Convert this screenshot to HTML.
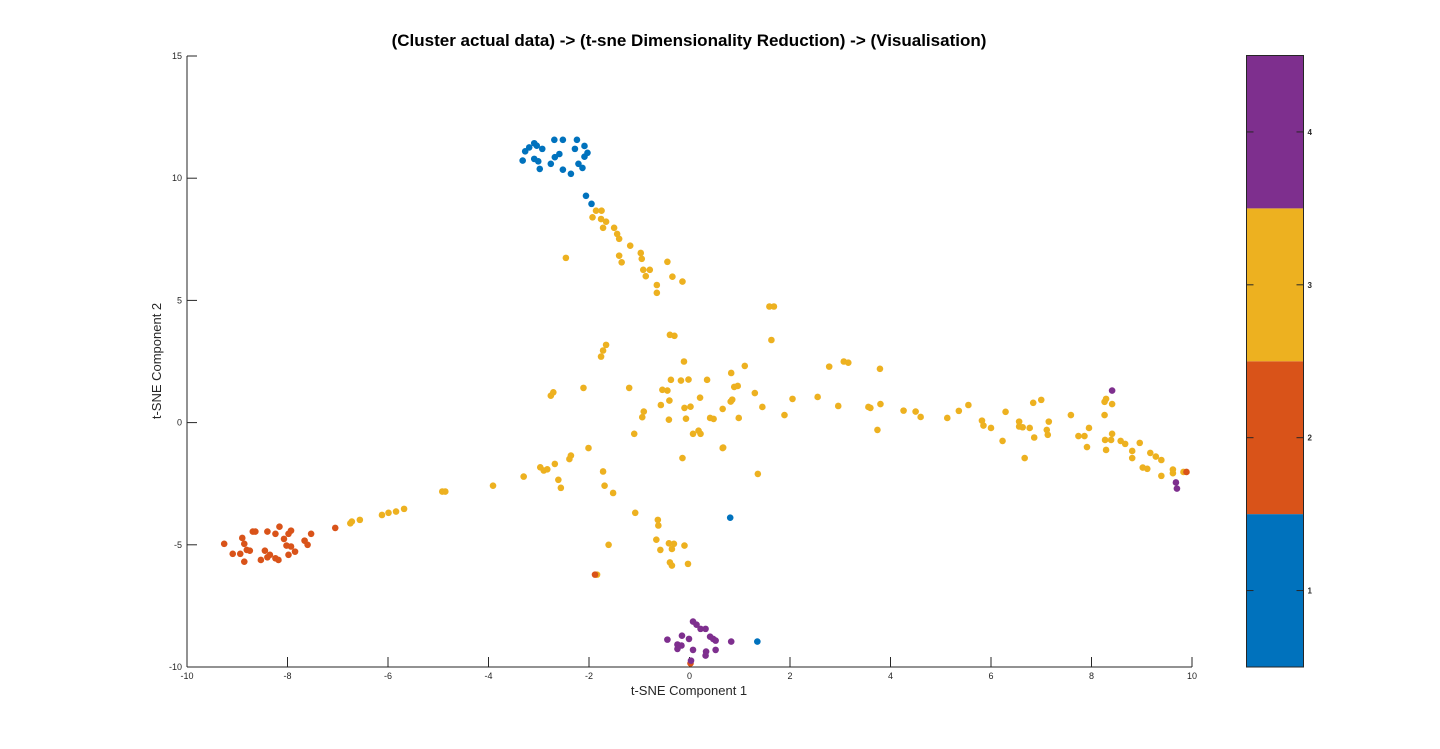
<!DOCTYPE html>
<html><head><meta charset="utf-8"><style>
html,body{margin:0;padding:0;background:#fff;}
svg{display:block;font-family:"Liberation Sans",sans-serif;}
</style></head><body>
<svg id="chart" width="1440" height="749" viewBox="0 0 1440 749" xmlns="http://www.w3.org/2000/svg">
<rect width="1440" height="749" fill="#fff"/>
<text x="689" y="46" text-anchor="middle" font-size="17" font-weight="bold" fill="#000">(Cluster actual data) -&gt; (t-sne Dimensionality Reduction) -&gt; (Visualisation)</text>
<g id="axes"></g>
<g id="points"></g>
<g id="cbar"></g>
<text x="689" y="695" text-anchor="middle" font-size="13" fill="#262626">t-SNE Component 1</text>
<text transform="translate(161,361) rotate(-90)" text-anchor="middle" font-size="13" fill="#262626">t-SNE Component 2</text>
</svg>
<script>
const xTicks=[-10,-8,-6,-4,-2,0,2,4,6,8,10];
const yTicks=[-10,-5,0,5,10,15];
const cbarTicks=[1,2,3,4];
const clusterColors=["#0072BD","#D95319","#EDB120","#7E2F8E"];
const blueX=[-3.32,-3.27,-3.19,-3.09,-3.04,-2.93,-3.09,-3.01,-2.98,-2.76,-2.68,-2.59,-2.69,-2.52,-2.52,-2.36,-2.24,-2.28,-2.09,-2.03,-2.09,-2.21,-2.13,-2.06,-1.95,0.81,1.35];
const blueY=[10.72,11.10,11.26,11.43,11.33,11.20,10.79,10.69,10.38,10.59,10.86,10.99,11.57,11.57,10.35,10.18,11.57,11.20,11.32,11.04,10.88,10.59,10.42,9.28,8.95,-3.89,-8.96];
const orangeX=[-9.26,-9.09,-8.94,-8.86,-8.90,-8.86,-8.81,-8.75,-8.69,-8.64,-8.53,-8.45,-8.40,-8.35,-8.24,-8.18,-8.40,-8.24,-8.16,-8.07,-8.02,-7.98,-7.93,-7.98,-7.93,-7.85,-7.66,-7.60,-7.53,-7.05,9.89,-1.88,0.02];
const orangeY=[-4.96,-5.37,-5.37,-5.69,-4.72,-4.96,-5.21,-5.24,-4.46,-4.46,-5.62,-5.24,-5.51,-5.41,-5.55,-5.62,-4.46,-4.55,-4.26,-4.76,-5.03,-5.41,-5.07,-4.55,-4.42,-5.28,-4.83,-5.00,-4.55,-4.31,-2.02,-6.22,-9.85];
const yellowX=[-1.86,-1.75,-1.93,-1.76,-1.66,-1.72,-1.50,-1.44,-1.40,-1.18,-0.97,-0.95,-1.40,-1.35,-2.46,-0.44,-0.92,-0.79,-0.87,-0.65,-0.65,-0.34,-0.14,-0.39,-0.30,-1.66,-1.72,-1.76,-0.11,-0.37,-0.17,-0.02,-2.76,-2.71,-2.11,-1.20,-0.54,-0.44,-0.57,-0.40,
-1.10,-2.01,-2.36,-2.39,-2.68,-2.97,-2.90,-2.83,-3.30,-2.61,-2.56,-1.72,-1.69,-1.52,-3.91,-4.92,-4.86,-5.68,-5.84,-5.99,-6.12,-6.56,-6.75,-6.72,-1.08,-0.63,-0.62,-0.66,-0.58,-0.41,-0.35,-0.35,-0.39,-0.10,-0.03,-0.14,0.66,1.36,0.07,0.22,-1.61,-1.84,-0.31,
1.59,1.68,1.63,-0.91,-0.94,0.35,0.83,1.10,0.21,-0.10,0.02,-0.07,-0.41,0.18,0.66,0.41,0.48,0.82,0.85,0.89,0.96,0.98,0.67,1.30,1.45,1.89,2.05,2.55,2.78,3.07,3.16,2.96,3.56,3.60,3.80,3.79,3.74,4.26,4.50,4.60,5.13,5.36,5.55,5.82,5.85,6.00,6.23,6.29,6.56,6.56,6.63,6.77,6.86,6.67,6.84,7.00,7.11,7.13,7.15,7.59,7.74,7.86,7.95,7.91,8.26,8.26,8.29,8.41,8.27,8.39,8.41,8.29,8.58,8.67,8.81,8.81,8.96,9.17,9.28,9.39,9.02,9.11,9.39,9.62,9.62,9.83];
const yellowY=[8.67,8.67,8.40,8.33,8.22,7.97,7.97,7.72,7.52,7.24,6.94,6.70,6.83,6.56,6.74,6.58,6.25,6.25,5.99,5.63,5.31,5.97,5.77,3.59,3.55,3.18,2.95,2.70,2.50,1.75,1.72,1.76,1.10,1.24,1.42,1.42,1.34,1.31,0.72,0.90,
-0.46,-1.04,-1.35,-1.49,-1.69,-1.83,-1.96,-1.91,-2.21,-2.34,-2.67,-2.00,-2.58,-2.88,-2.58,-2.82,-2.82,-3.53,-3.64,-3.69,-3.78,-3.98,-4.12,-4.05,-3.69,-3.98,-4.21,-4.79,-5.21,-4.94,-5.17,-5.85,-5.72,-5.03,-5.78,-1.45,-1.04,-2.10,-0.46,-0.46,-5.00,-6.22,-4.96,
4.75,4.75,3.38,0.45,0.22,1.75,2.03,2.32,1.02,0.60,0.65,0.16,0.12,-0.33,0.56,0.19,0.15,0.86,0.94,1.46,1.50,0.19,-1.02,1.21,0.64,0.31,0.97,1.05,2.29,2.50,2.45,0.68,0.64,0.60,0.76,2.20,-0.30,0.49,0.45,0.23,0.19,0.48,0.72,0.08,-0.12,-0.22,-0.75,0.44,0.04,-0.16,-0.19,-0.22,-0.61,-1.45,0.81,0.93,-0.30,-0.50,0.04,0.31,-0.55,-0.55,-0.22,-1.00,0.31,0.85,0.97,0.76,-0.71,-0.71,-0.46,-1.12,-0.75,-0.87,-1.16,-1.45,-0.83,-1.24,-1.39,-1.53,-1.84,-1.89,-2.18,-1.92,-2.07,-2.02];
const purpleX=[0.07,0.14,0.22,0.32,0.41,0.47,0.52,-0.15,-0.01,-0.44,-0.24,-0.16,-0.24,0.07,0.33,0.32,0.52,0.83,0.03,8.41,9.68,9.70];
const purpleY=[-8.14,-8.27,-8.44,-8.44,-8.76,-8.85,-8.92,-8.72,-8.85,-8.88,-9.08,-9.12,-9.26,-9.30,-9.37,-9.53,-9.30,-8.96,-9.74,1.31,-2.45,-2.70];

const NS="http://www.w3.org/2000/svg";
const L=187,R=1192,T=56,B=667;
const xs=v=>L+(v+10)/20*(R-L);
const ys=v=>B-(v+10)/25*(B-T);
function mk(tag,attrs,parent){const e=document.createElementNS(NS,tag);for(const k in attrs)e.setAttribute(k,attrs[k]);parent.appendChild(e);return e;}
const axes=document.getElementById('axes');
let e=mk('line',{x1:L,y1:B,x2:R,y2:B,stroke:'#262626','stroke-width':1},axes);


e=mk('line',{x1:L,y1:T,x2:L,y2:B,stroke:'#262626','stroke-width':1},axes);


xTicks.forEach(t=>{
  const x=xs(t);
  let tk=mk('line',{x1:x,y1:B,x2:x,y2:B-10,stroke:'#262626'},axes);
  
  
  let tl=mk('text',{x:x,y:B+12,'text-anchor':'middle','font-size':9,fill:'#262626'},axes);
  tl.textContent=t;
  
  
});
yTicks.forEach(t=>{
  const y=ys(t);
  let tk=mk('line',{x1:L,y1:y,x2:L+10,y2:y,stroke:'#262626'},axes);
  
  
  let tl=mk('text',{x:L-5,y:y+3,'text-anchor':'end','font-size':9,fill:'#262626'},axes);
  tl.textContent=t;
  
  
});
const pts=document.getElementById('points');
function series(X,Y,col,name){
  for(let i=0;i<X.length;i++){
    const c=mk('circle',{cx:xs(X[i]),cy:ys(Y[i]),r:3.3,fill:col},pts);
    
    
  }
}
series(yellowX,yellowY,clusterColors[2],'cluster-3-point');
series(orangeX,orangeY,clusterColors[1],'cluster-2-point');
series(blueX,blueY,clusterColors[0],'cluster-1-point');
series(purpleX,purpleY,clusterColors[3],'cluster-4-point');
const cb=document.getElementById('cbar');
const CL=1246.5,CR=1303.5,CT=55.5,CB=667;
const cy=v=>CB-(v-0.5)/4*(CB-CT);
clusterColors.forEach((col,i)=>{
  const s=mk('rect',{x:CL,y:cy(i+1.5),width:CR-CL,height:cy(i+0.5)-cy(i+1.5),fill:col},cb);
  
  
});
e=mk('rect',{x:CL,y:CT,width:CR-CL,height:CB-CT,fill:'none',stroke:'#262626'},cb);


cbarTicks.forEach(t=>{
  const y=cy(t);
  let a=mk('line',{x1:CL,y1:y,x2:CL+7,y2:y,stroke:'#262626'},cb);
  
  
  let b=mk('line',{x1:CR-7,y1:y,x2:CR,y2:y,stroke:'#262626'},cb);
  
  
  let tl=mk('text',{x:CR+4,y:y+3,'font-size':8,'font-weight':'bold',fill:'#262626'},cb);
  tl.textContent=t;
  
  
});
</script>
</body></html>
